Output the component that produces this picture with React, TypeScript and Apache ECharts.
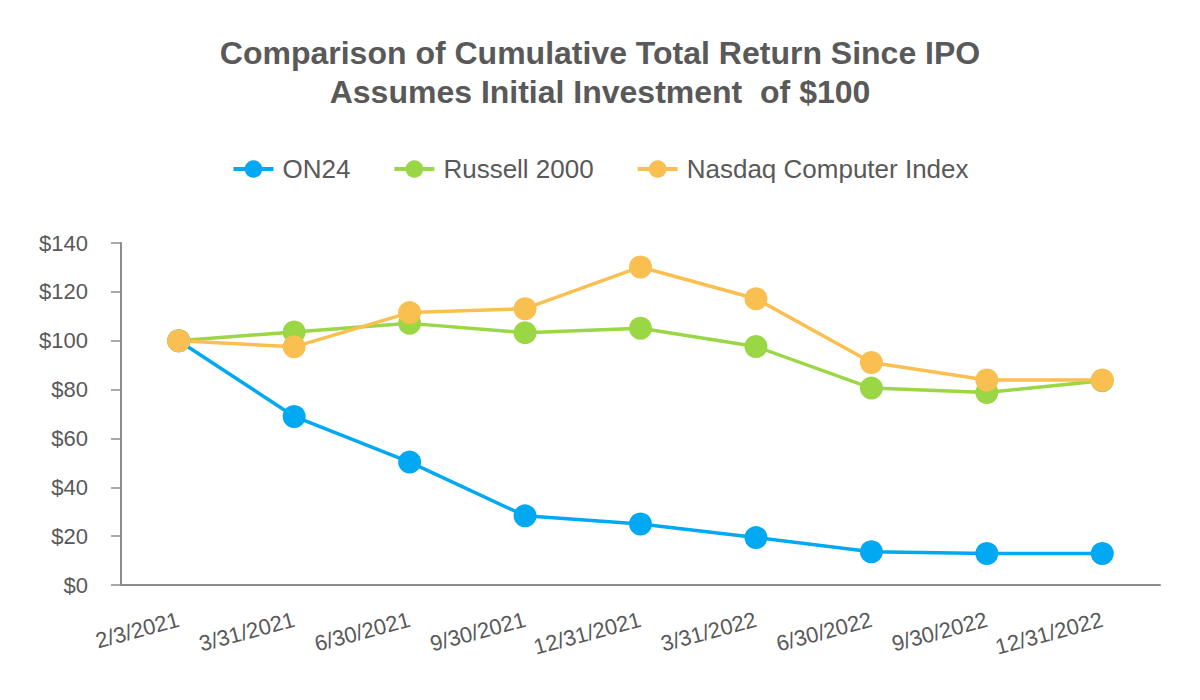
import React, { useEffect, useRef } from "react";
import * as echarts from "echarts";

const categories = ["2/3/2021", "3/31/2021", "6/30/2021", "9/30/2021", "12/31/2021", "3/31/2022", "6/30/2022", "9/30/2022", "12/31/2022"];
const on24 = [100, 69.0, 50.3, 28.3, 25.0, 19.4, 13.6, 12.9, 12.9];
const russell = [100, 103.6, 107.1, 103.3, 105.1, 97.6, 80.6, 78.8, 83.6];
const nasdaq = [100, 97.5, 111.5, 113.1, 130.2, 117.2, 91.1, 83.9, 83.9];
const titleLines = ["Comparison of Cumulative Total Return Since IPO", "Assumes Initial Investment  of $100"];

const FONT = "'Liberation Sans', Arial, sans-serif";
const GRAY = "#595959";

export default function App() {
  const ref = useRef<HTMLDivElement>(null);
  useEffect(() => {
    if (!ref.current) return;
    const chart = echarts.init(ref.current, undefined, { renderer: "svg" });
    const mk = (name: string, data: number[], color: string) => ({
      name,
      type: "line",
      data,
      symbol: "circle",
      symbolSize: 23,
      itemStyle: { color },
      lineStyle: { color, width: 3.5 },
    });
    chart.setOption({
      animation: false,
      textStyle: { fontFamily: FONT },
      title: {
        text: titleLines.join("\n"),
        left: "center",
        top: 28,
        textStyle: { fontFamily: FONT, fontSize: 32, fontWeight: "bold", color: GRAY, lineHeight: 39 },
      },
      legend: {
        top: 151,
        left: "center",
        itemWidth: 40,
        itemHeight: 22,
        itemGap: 42,
        lineStyle: { width: 4 },
        textStyle: { fontFamily: FONT, fontSize: 26, color: GRAY, padding: [0, 0, 0, 4] },
        data: ["ON24", "Russell 2000", "Nasdaq Computer Index"],
      },
      grid: { left: 121, right: 40, top: 243, bottom: 115, containLabel: false },
      xAxis: {
        type: "category",
        data: categories,
        boundaryGap: true,
        axisLine: { lineStyle: { color: "#8c8c8c", width: 2 } },
        axisTick: { alignWithLabel: true, length: 10, lineStyle: { color: "#8c8c8c", width: 1.5 } },
        axisLabel: { rotate: 15, color: GRAY, fontSize: 22, fontFamily: FONT, margin: 34, interval: 0 },
      },
      yAxis: {
        type: "value",
        min: 0,
        max: 140,
        interval: 20,
        splitLine: { show: false },
        axisLine: { show: true, lineStyle: { color: "#8c8c8c", width: 2 } },
        axisTick: { show: true, length: 10, lineStyle: { color: "#8c8c8c", width: 1.5 } },
        axisLabel: { color: GRAY, fontSize: 22, fontFamily: FONT, margin: 33, formatter: (v: number) => "$" + v },
      },
      series: [
        mk("ON24", on24, "#00A9F1"),
        mk("Russell 2000", russell, "#9BD645"),
        mk("Nasdaq Computer Index", nasdaq, "#F9BF50"),
      ],
    });
    return () => chart.dispose();
  }, []);
  return <div ref={ref} style={{ width: 1200, height: 700, margin: -8 }} />;
}
